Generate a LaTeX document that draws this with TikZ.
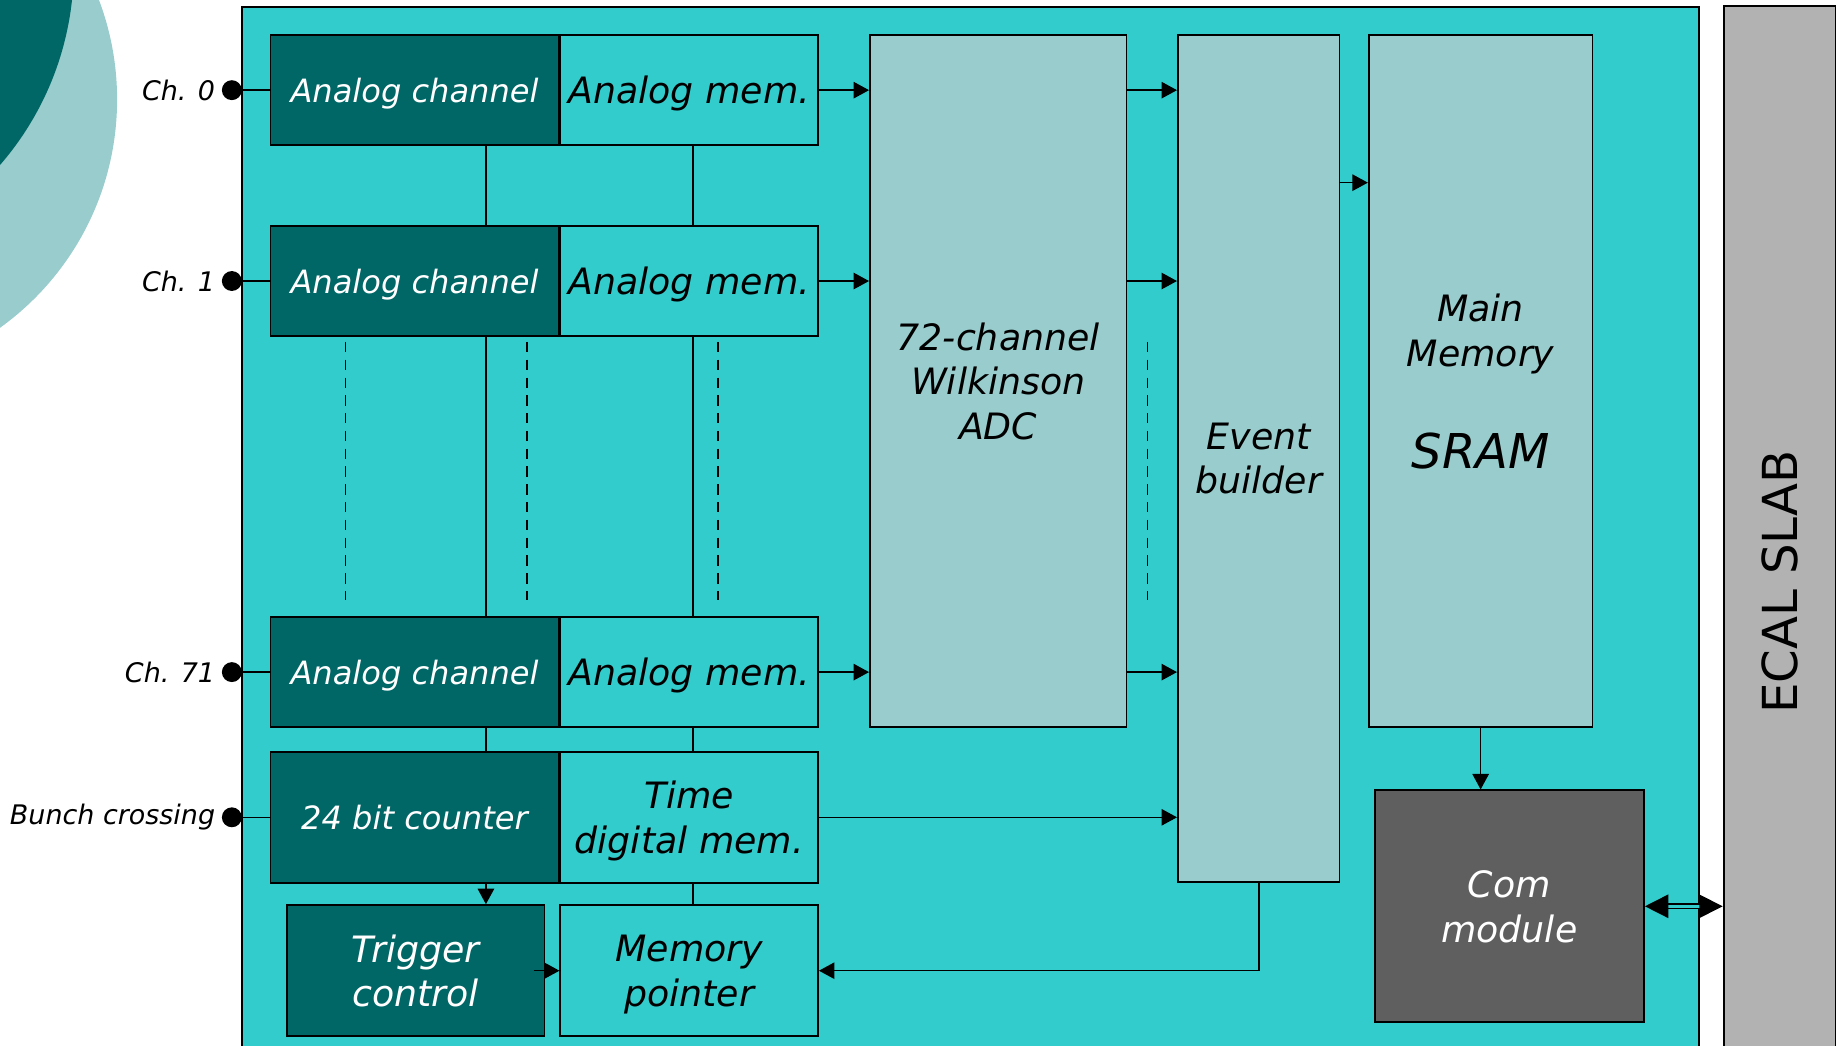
\documentclass[tikz,border=0pt]{standalone}
\usepackage{fontspec}
\setmainfont{DejaVu Sans}
\usetikzlibrary{positioning,arrows.meta}
\definecolor{boardcyan}{HTML}{33CCCC}
\definecolor{deepteal}{HTML}{006666}
\definecolor{paleteal}{HTML}{99CCCC}
\definecolor{comgrey}{HTML}{5F5F5F}
\definecolor{slabgrey}{HTML}{B2B2B2}

\begin{document}
\begin{tikzpicture}[
    x=0.5pt, y=-0.5pt,
    blk/.style={rectangle, draw=black, line width=0.8pt, inner sep=0pt, text depth=0pt, align=center, font=\fontsize{15.5}{19}\selectfont\itshape},
    darkblk/.style={blk, fill=deepteal, text=white},
    cyanblk/.style={blk, fill=boardcyan},
    paleblk/.style={blk, fill=paleteal},
    comblk/.style={blk, fill=comgrey, text=white},
    chanfont/.style={font=\fontsize{13.7}{17}\selectfont\itshape},
    pin/.style={circle, fill=black, inner sep=0pt, minimum size=8.5pt},
    pinlbl/.style={font=\fontsize{11.5}{14}\selectfont\itshape, inner sep=0pt},
    wire/.style={line width=0.65pt},
    arr/.style={wire, -{Triangle[length=6.6pt, width=7pt]}},
    ellipsis/.style={line width=0.65pt, dash pattern=on 4.4pt off 3.2pt},
]
\useasboundingbox (0,0) rectangle (1568,893);
\clip (0,0) rectangle (1568,893);

\fill[paleteal] (-140,85) circle[radius=240];
\fill[deepteal] (-195,-28) circle[radius=258];

\draw[fill=boardcyan, line width=0.8pt] (207,6) rectangle (1451,930);
\node[blk, fill=slabgrey, minimum width=48pt, minimum height=492pt, font=\fontsize{20.6}{24}\selectfont] (slab) at (1520,497) {\rotatebox{90}{ECAL SLAB}};

\node[darkblk, chanfont, minimum width=123pt, minimum height=47pt] (ac0) at (354,77) {Analog channel};
\node[cyanblk, minimum width=110pt, minimum height=47pt, right=0pt of ac0] (am0) {Analog mem.};
\node[darkblk, chanfont, minimum width=123pt, minimum height=47pt] (ac1) at (354,240) {Analog channel};
\node[cyanblk, minimum width=110pt, minimum height=47pt, right=0pt of ac1] (am1) {Analog mem.};
\node[darkblk, chanfont, minimum width=123pt, minimum height=47pt] (ac71) at (354,574) {Analog channel};
\node[cyanblk, minimum width=110pt, minimum height=47pt, right=0pt of ac71] (am71) {Analog mem.};
\node[darkblk, chanfont, minimum width=123pt, minimum height=56pt] (ctr) at (354,698) {24 bit counter};
\node[cyanblk, minimum width=110pt, minimum height=56pt, right=0pt of ctr] (tdm) {Time\\digital mem.};
\node[darkblk, minimum width=110pt, minimum height=56pt] (trig) at (355,829) {Trigger\\control};
\node[cyanblk, minimum width=110pt, minimum height=56pt] (mptr) at (tdm |- trig) {Memory\\pointer};

\node[paleblk, minimum width=109.5pt, minimum height=295.5pt] (adc) at (852.5,325.5) {72-channel\\Wilkinson\\ADC};
\node[paleblk, minimum width=69pt, minimum height=361.5pt] (eb) at (1075,391.5) {Event\\builder};
\node[paleblk, minimum width=95.5pt, minimum height=295.5pt] (mm) at (1264.5,325.5) {Main\\Memory\\[24.5pt]{\fontsize{20.5}{19}\selectfont SRAM}};
\node[comblk, minimum width=115pt, minimum height=99pt] (com) at (1289,774) {Com\\module};

\node[pin] (p0) at (198,77) {};
\node[pin] (p1) at (198,240) {};
\node[pin] (p71) at (198,574) {};
\node[pin] (pbx) at (198,698) {};
\node[pinlbl, left=2.5pt of p0] (l0) {Ch. 0};
\node[pinlbl, left=2.5pt of p1] (l1) {Ch. 1};
\node[pinlbl, left=2.5pt of p71] (l71) {Ch. 71};
\node[pinlbl, left=2.5pt of pbx] (lbx) {Bunch crossing};

\coordinate (busL) at (415,0);
\coordinate (busR) at (592,0);
\coordinate (tap) at (1150,156);

\foreach \p/\b in {p0/ac0, p1/ac1, p71/ac71, pbx/ctr}
    \draw[wire] (\p) -- (\b);
\foreach \a/\b in {ac0/ac1, ac1/ac71, ac71/ctr}
    \draw[wire] (\a.south -| busL) -- (\b.north -| busL);
\foreach \a/\b in {am0/am1, am1/am71, am71/tdm, tdm/mptr}
    \draw[wire] (\a.south -| busR) -- (\b.north -| busR);
\foreach \r in {am0, am1, am71} {
    \draw[arr] (\r.east) -- (\r.east -| adc.west);
    \draw[arr] (\r.east -| adc.east) -- (\r.east -| eb.west);
}
\foreach \dx in {295, 450, 613, 980}
    \draw[ellipsis] (\dx,292) -- (\dx,512);

\draw[arr] (ctr.south -| busL) -- (trig.north -| busL);
\draw[arr] ([xshift=-5pt]trig.east) -- (mptr.west);
\draw[arr] (tdm.east) -- (tdm.east -| eb.west);
\draw[arr] (tap -| eb.east) -- (tap -| mm.west);
\draw[arr] (eb.south) |- (mptr.east);
\draw[arr] (mm.south) -- (mm.south |- com.north);
\draw[wire, double=boardcyan, double distance=1.4pt, {Triangle[length=10pt, width=10pt]}-{Triangle[length=10pt, width=10pt]}] (com.east) -- (com.east -| slab.west);
\end{tikzpicture}
\end{document}
